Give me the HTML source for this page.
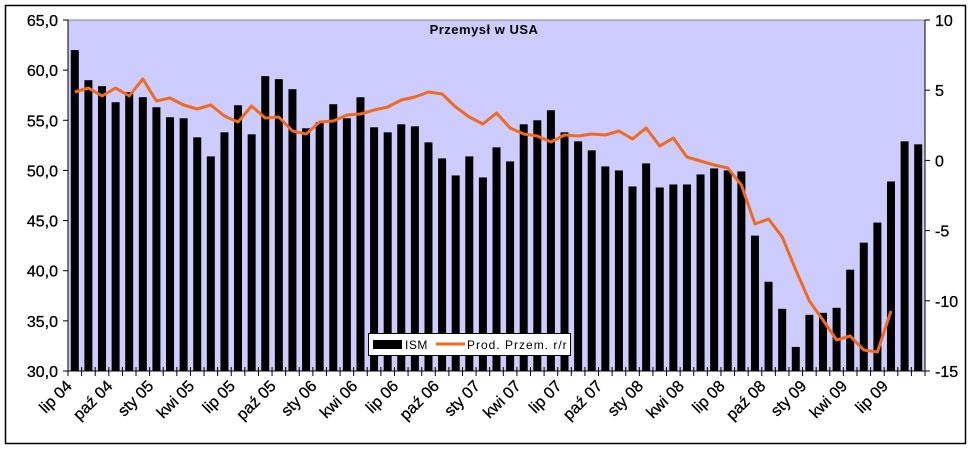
<!DOCTYPE html>
<html><head><meta charset="utf-8"><style>
html,body{margin:0;padding:0;background:#fff;}
svg{display:block;}
text{font-family:"Liberation Sans",Arial,sans-serif;}
</style></head><body>
<svg width="973" height="450" xmlns="http://www.w3.org/2000/svg">
<rect x="5.5" y="5.5" width="960" height="438" fill="#fff" stroke="#000" stroke-width="1.5"/>
<rect x="68" y="20" width="857" height="351" fill="#ccccff"/>
<line x1="68" y1="20" x2="925" y2="20" stroke="#888" stroke-width="1"/>
<g id="bars" fill="#000"></g>
<polyline id="line" fill="none" stroke="#f26a1b" stroke-width="3" stroke-linejoin="round"/>
<line x1="68" y1="20" x2="68" y2="371" stroke="#000"/>
<line x1="925" y1="20" x2="925" y2="371" stroke="#000"/>
<line x1="68" y1="371" x2="925" y2="371" stroke="#000"/>
<g id="ticks" stroke="#000"></g>
<g id="labels" font-size="16" fill="#000" stroke="#000" stroke-width="0.3"></g>
<text x="484" y="34" font-size="13" font-weight="bold" text-anchor="middle" letter-spacing="0.5">Przemysł w USA</text>
<rect x="368.5" y="333.5" width="202" height="22" fill="#fff" stroke="#000"/>
<rect x="373" y="340" width="29" height="9" fill="#000"/>
<text x="405" y="349" font-size="12" letter-spacing="0.5">ISM</text>
<line x1="436" y1="344" x2="465" y2="344" stroke="#f26a1b" stroke-width="3"/>
<text x="467" y="349" font-size="12" letter-spacing="1">Prod. Przem. r/r</text>
</svg>
<script>
var ism=[62.0,59.0,58.4,56.8,57.8,57.3,56.3,55.3,55.2,53.3,51.4,53.8,56.5,53.6,59.4,59.1,58.1,54.2,54.8,56.6,55.2,57.3,54.3,53.8,54.6,54.4,52.8,51.2,49.5,51.4,49.3,52.3,50.9,54.6,55.0,56.0,53.8,52.9,52.0,50.4,50.0,48.4,50.7,48.3,48.6,48.6,49.6,50.2,50.0,49.9,43.5,38.9,36.2,32.4,35.6,35.8,36.3,40.1,42.8,44.8,48.9,52.9,52.6];
var ly=[92,88,96,88,96,79,101,98,105,109,105,116,122,106,118,117,131,134,122,121,115,114,110,107,100,97,92,94,107,117,124,113,128,134,136,142,135,136,134,135,131,139,128,146,138,157,161,165,168,185,224,219,237,270,301,320,340,336,350,352,311];
var ns="http://www.w3.org/2000/svg",step=857/63;
function el(t,a,p,txt){var e=document.createElementNS(ns,t);for(var k in a)e.setAttribute(k,a[k]);if(txt)e.textContent=txt;p.appendChild(e);return e;}
var B=document.getElementById('bars');
ism.forEach(function(v,i){var c=68+step*(i+0.5);var y=371-(v-30)*351/35;el('rect',{x:c-4,y:y,width:8,height:371-y},B);});
document.getElementById('line').setAttribute('points',ly.map(function(y,i){return (68+step*(i+0.5)).toFixed(1)+','+y;}).join(' '));
var T=document.getElementById('ticks'),L=document.getElementById('labels');
for(var i=0;i<=63;i++){var x=68+step*i;el('line',{x1:x,y1:367,x2:x,y2:376},T);}
for(var k=0;k<=7;k++){var y=371-k*351/7;el('line',{x1:63,y1:y,x2:68,y2:y},T);el('text',{x:58,y:y+6,'text-anchor':'end'},L,(30+5*k).toFixed(1).replace('.',','));}
var rv=[10,5,0,-5,-10,-15];rv.forEach(function(v){var y=20+(10-v)*351/25;el('line',{x1:925,y1:y,x2:930,y2:y},T);el('text',{x:935,y:y+6},L,String(v));});
var names=['lip 04','paź 04','sty 05','kwi 05','lip 05','paź 05','sty 06','kwi 06','lip 06','paź 06','sty 07','kwi 07','lip 07','paź 07','sty 08','kwi 08','lip 08','paź 08','sty 09','kwi 09','lip 09'];
names.forEach(function(n,j){var c=68+step*(3*j+0.5)-2;el('text',{x:c,y:387,'text-anchor':'end',transform:'rotate(-45 '+c+' 387)'},L,n);});
</script>
</body></html>
